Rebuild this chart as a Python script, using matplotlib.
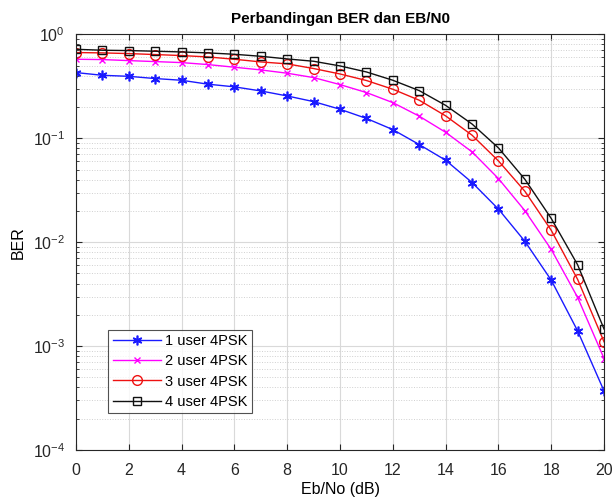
import matplotlib
matplotlib.use("Agg")
import matplotlib.pyplot as plt
from matplotlib.ticker import LogLocator, NullFormatter

plt.rcParams['font.family'] = ['Liberation Sans', 'DejaVu Sans']

# Eb/No (dB)
ebno = list(range(0, 21))

# BER tiap jumlah user
ber_1user = [0.428, 0.403, 0.394, 0.375, 0.361, 0.331, 0.312, 0.285, 0.255, 0.225, 0.190,
             0.155, 0.121, 0.0869, 0.0614, 0.0375, 0.0208, 0.0102, 0.00431, 0.00140, 0.00037]
ber_2user = [0.575, 0.571, 0.558, 0.546, 0.534, 0.511, 0.482, 0.454, 0.422, 0.383, 0.328,
             0.275, 0.220, 0.163, 0.114, 0.0739, 0.0409, 0.0201, 0.00851, 0.00294, 0.00076]
ber_3user = [0.667, 0.662, 0.652, 0.638, 0.624, 0.605, 0.575, 0.542, 0.519, 0.468, 0.415,
             0.359, 0.296, 0.232, 0.164, 0.107, 0.0605, 0.0309, 0.0130, 0.00438, 0.00110]
ber_4user = [0.717, 0.702, 0.697, 0.687, 0.676, 0.662, 0.642, 0.614, 0.579, 0.550, 0.496,
             0.434, 0.361, 0.287, 0.207, 0.137, 0.0807, 0.0403, 0.0169, 0.00605, 0.00146]

labels = ['1 user 4PSK', '2 user 4PSK', '3 user 4PSK', '4 user 4PSK']

fig = plt.figure(figsize=(6.14, 5.04), dpi=100)
ax = fig.add_axes([0.1238, 0.107, 0.860, 0.825])

# marker asterisk ala MATLAB
asterisk = (6, 2, 0)
ax.semilogy(ebno, ber_1user, '-', marker=asterisk, color='#1a1aff', lw=1.0, ms=7, mew=1.2, label=labels[0])
ax.semilogy(ebno, ber_2user, '-x', color='#ff00ff', lw=1.0, ms=5, label=labels[1])
ax.semilogy(ebno, ber_3user, '-o', color='#ee1111', lw=1.0, ms=7, mfc='none', label=labels[2])
ax.semilogy(ebno, ber_4user, '-s', color='#111111', lw=1.0, ms=6, mfc='none', label=labels[3])

ax.set_xlim(0, 20)
ax.set_ylim(1e-4, 1e0)
ax.set_xticks(range(0, 21, 2))
ax.yaxis.set_minor_locator(LogLocator(base=10, subs=range(2, 10)))
ax.yaxis.set_minor_formatter(NullFormatter())

# gaya grid mirip MATLAB
ax.grid(True, which='major', color='#d9d9d9', lw=0.8, ls='-')
ax.grid(True, which='minor', axis='y', color='#d0d0d0', lw=0.7, ls=':')
ax.set_axisbelow(True)
ax.tick_params(which='both', direction='in', top=True, right=True, labelsize=11.5, colors='#262626')
ax.tick_params(which='major', length=4)
ax.tick_params(axis='x', which='major', pad=9)
ax.tick_params(axis='y', which='major', pad=8)
ax.tick_params(which='minor', length=2)
for s in ax.spines.values():
    s.set_color('#262626')
    s.set_linewidth(0.8)

ax.set_title('Perbandingan BER dan EB/N0', fontsize=11, fontweight='bold', pad=8)
ax.set_xlabel('Eb/No (dB)', fontsize=11.5, labelpad=3)
ax.set_ylabel('BER', fontsize=11.5, labelpad=5)

leg = ax.legend(loc='lower left', bbox_to_anchor=(0.061, 0.089), fontsize=10.5,
                frameon=True, fancybox=False, edgecolor='#262626', handlelength=3.3,
                borderpad=0.3, labelspacing=0.42, handletextpad=0.3, borderaxespad=0)
leg.get_frame().set_linewidth(0.8)

fig.savefig('out.png', dpi=100)
